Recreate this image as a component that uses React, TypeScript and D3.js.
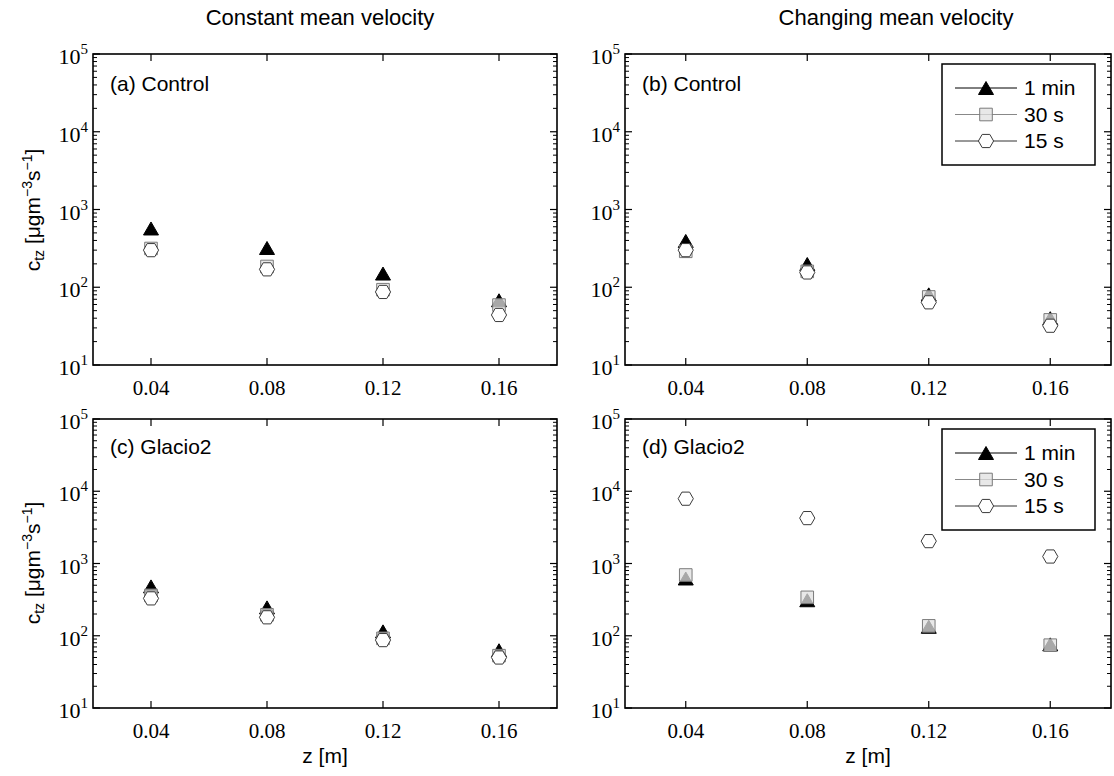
import React from "react";
import * as d3 from "d3";

const Z = [0.04, 0.08, 0.12, 0.16];
const X_TICKS = [0.04, 0.08, 0.12, 0.16];
const X_TICK_LABELS = ["0.04", "0.08", "0.12", "0.16"];
const Y_DECADES = [1, 2, 3, 4, 5];

// panel (a) Control, constant mean velocity
const aMin1 = [570, 320, 150, 68];
const aSec30 = [315, 185, 93, 59];
const aSec15 = [300, 170, 87, 44];
// panel (b) Control, changing mean velocity
const bMin1 = [394, 199, 81, 40];
const bSec30 = [290, 160, 75, 38];
const bSec15 = [300, 155, 64, 32];
// panel (c) Glacio2, constant mean velocity
const cMin1 = [482, 247, 115, 63];
const cSec30 = [362, 195, 92, 53];
const cSec15 = [329, 180, 87, 50];
// panel (d) Glacio2, changing mean velocity
const dMin1 = [620, 310, 133, 76];
const dSec30 = [693, 340, 137, 74];
const dSec15 = [7890, 4250, 2040, 1250];

const SERIES_NAMES = ["1 min", "30 s", "15 s"];
const COLUMN_TITLES = ["Constant mean velocity", "Changing mean velocity"];

const SANS = "'Liberation Sans', 'DejaVu Sans', sans-serif";
const SERIF = "'Liberation Serif', 'DejaVu Serif', serif";

type Panel = {
  label: string;
  x0: number; x1: number; y0: number; y1: number;
  series: number[][];
  legend: boolean;
  bottomLabel: boolean;
};

const panels: Panel[] = [
  { label: "(a) Control", x0: 93, x1: 557, y0: 54, y1: 365, series: [aMin1, aSec30, aSec15], legend: false, bottomLabel: false },
  { label: "(b) Control", x0: 625, x1: 1111, y0: 54, y1: 365, series: [bMin1, bSec30, bSec15], legend: true, bottomLabel: false },
  { label: "(c) Glacio2", x0: 93, x1: 557, y0: 419, y1: 708, series: [cMin1, cSec30, cSec15], legend: false, bottomLabel: true },
  { label: "(d) Glacio2", x0: 625, x1: 1111, y0: 419, y1: 708, series: [dMin1, dSec30, dSec15], legend: true, bottomLabel: true },
];

function triPath(cx: number, cy: number) {
  const w = 7.5, h = 6.5;
  return `M${cx},${cy - h}L${cx + w},${cy + h}L${cx - w},${cy + h}Z`;
}
function sqPath(cx: number, cy: number) {
  const s = 6.3;
  return `M${cx - s},${cy - s}H${cx + s}V${cy + s}H${cx - s}Z`;
}
function hexPath(cx: number, cy: number) {
  const r = 7.6;
  const pts = d3.range(6).map((i) => {
    const a = (Math.PI / 3) * i;
    return [cx + r * Math.cos(a), cy + r * Math.sin(a)];
  });
  return "M" + pts.map((p) => p.join(",")).join("L") + "Z";
}

function Marker({ kind, cx, cy }: { kind: number; cx: number; cy: number }) {
  if (kind === 0) return <path d={triPath(cx, cy)} fill="#000" stroke="#000" strokeWidth={1} />;
  if (kind === 1)
    return <path d={sqPath(cx, cy)} fill="#e0e0e0" fillOpacity={0.75} stroke="#7a7a7a" strokeWidth={1} />;
  return <path d={hexPath(cx, cy)} fill="#fff" stroke="#3a3a3a" strokeWidth={1} />;
}

function PanelView({ p }: { p: Panel }) {
  const x = d3.scaleLinear().domain([0.02, 0.18]).range([p.x0, p.x1]);
  const y = d3.scaleLog().domain([10, 1e5]).range([p.y1, p.y0]);
  const minor: number[] = [];
  for (let dcd = 1; dcd < 5; dcd++) for (let m = 2; m <= 9; m++) minor.push(m * Math.pow(10, dcd));
  const h = p.y1 - p.y0;
  const w = p.x1 - p.x0;
  return (
    <g>
      {[0, 1, 2].map((k) => (
        <g key={k}>
          {Z.map((z, i) => (
            <Marker key={i} kind={k} cx={x(z)} cy={y(p.series[k][i])} />
          ))}
        </g>
      ))}
      {X_TICKS.map((t) => (
        <g key={t}>
          <line x1={x(t)} x2={x(t)} y1={p.y1} y2={p.y1 - 7} stroke="#000" strokeWidth={1.2} />
          <line x1={x(t)} x2={x(t)} y1={p.y0} y2={p.y0 + 7} stroke="#000" strokeWidth={1.2} />
        </g>
      ))}
      {Y_DECADES.map((d) => (
        <g key={d}>
          <line x1={p.x0} x2={p.x0 + 7} y1={y(Math.pow(10, d))} y2={y(Math.pow(10, d))} stroke="#000" strokeWidth={1.2} />
          <line x1={p.x1} x2={p.x1 - 7} y1={y(Math.pow(10, d))} y2={y(Math.pow(10, d))} stroke="#000" strokeWidth={1.2} />
        </g>
      ))}
      {minor.map((v) => (
        <g key={v}>
          <line x1={p.x0} x2={p.x0 + 4} y1={y(v)} y2={y(v)} stroke="#000" strokeWidth={1} />
          <line x1={p.x1} x2={p.x1 - 4} y1={y(v)} y2={y(v)} stroke="#000" strokeWidth={1} />
        </g>
      ))}
      <rect x={p.x0} y={p.y0} width={w} height={h} fill="none" stroke="#000" strokeWidth={1.6} />
      {X_TICKS.map((t, i) => (
        <text key={t} x={x(t)} y={p.y1 + 30} textAnchor="middle" fontFamily={SERIF} fontSize={21}>
          {X_TICK_LABELS[i]}
        </text>
      ))}
      {Y_DECADES.map((d) => (
        <text key={d} x={p.x0 - 5} y={y(Math.pow(10, d)) + 10} textAnchor="end" fontFamily={SERIF} fontSize={22}>
          10
          <tspan dy={-10} fontSize={15}>{d}</tspan>
        </text>
      ))}
      <text x={p.x0 + 17} y={p.y0 + 0.12 * h} fontFamily={SANS} fontSize={21}>
        {p.label}
      </text>
      {p.bottomLabel && (
        <text x={(p.x0 + p.x1) / 2} y={763} textAnchor="middle" fontFamily={SANS} fontSize={21}>
          z [m]
        </text>
      )}
      {p.legend && (
        <g>
          <rect x={942} y={p.y0 + 10} width={153} height={101} fill="#fff" stroke="#000" strokeWidth={1.5} />
          {SERIES_NAMES.map((n, k) => {
            const ly = p.y0 + 34 + k * 26.5;
            return (
              <g key={n}>
                <line x1={955} x2={1017} y1={ly} y2={ly} stroke={k === 1 ? "#888" : k === 0 ? "#000" : "#333"} strokeWidth={1} />
                <Marker kind={k} cx={986} cy={ly} />
                <text x={1024} y={ly + 7} fontFamily={SANS} fontSize={21}>
                  {n}
                </text>
              </g>
            );
          })}
        </g>
      )}
    </g>
  );
}

function YLabel({ cy }: { cy: number }) {
  return (
    <text transform={`translate(40,${cy}) rotate(-90)`} textAnchor="middle" fontFamily={SANS} fontSize={21}>
      c
      <tspan fontSize={14} dy={4}>tz</tspan>
      <tspan dy={-4}> [μgm</tspan>
      <tspan fontSize={14} dy={-8}>−3</tspan>
      <tspan dy={8}>s</tspan>
      <tspan fontSize={14} dy={-8}>−1</tspan>
      <tspan dy={8}>]</tspan>
    </text>
  );
}

export default function App() {
  return (
    <svg width={1114} height={776} style={{ position: "absolute", left: 0, top: 0, background: "#fff" }}>
      <rect x={0} y={0} width={1114} height={776} fill="#fff" />
      <text x={320} y={25} textAnchor="middle" fontFamily={SANS} fontSize={22}>
        {COLUMN_TITLES[0]}
      </text>
      <text x={896} y={25} textAnchor="middle" fontFamily={SANS} fontSize={22}>
        {COLUMN_TITLES[1]}
      </text>
      {panels.map((p) => (
        <PanelView key={p.label} p={p} />
      ))}
      <YLabel cy={210} />
      <YLabel cy={563} />
    </svg>
  );
}
